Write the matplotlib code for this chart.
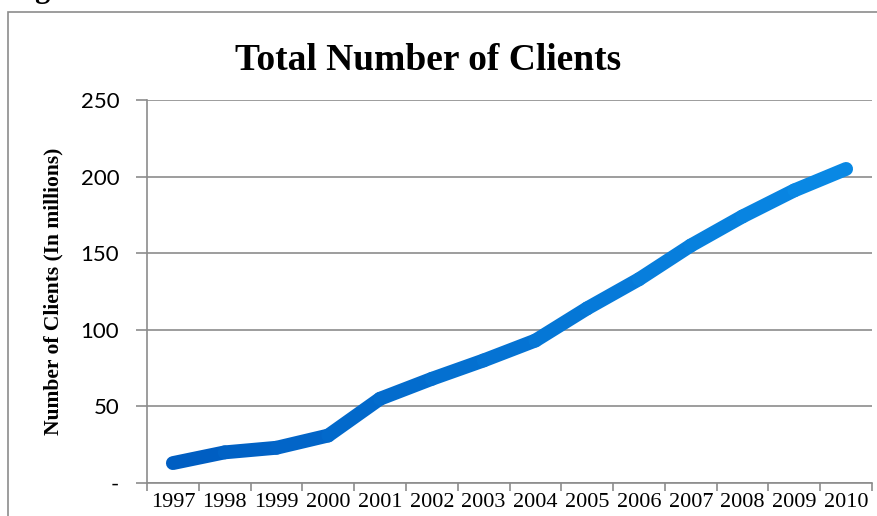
import numpy as np
from matplotlib import pyplot as plt
from matplotlib.collections import LineCollection
from matplotlib.colors import to_rgb
from matplotlib.patches import Rectangle

# Total clients per year, in millions
YEARS = ['1997', '1998', '1999', '2000', '2001', '2002', '2003',
         '2004', '2005', '2006', '2007', '2008', '2009', '2010']
CLIENTS = [13, 20, 23, 31, 55, 68, 80, 93, 114, 133, 155, 174, 191, 205]

Y_TICKS = [0, 50, 100, 150, 200, 250]
Y_TICK_LABELS = ['-', '50', '100', '150', '200', '250']

START_COLOR = '#005ec2'
END_COLOR = '#0988e4'
GRID_COLOR = '#8c8c8c'


def main():
    fig = plt.figure(figsize=(8.77, 5.16), dpi=100)
    ax = fig.add_axes([147 / 877, 1 - 483 / 516, 725 / 877, 383 / 516])

    # outer chart frame, only its top and left edges fall inside the image
    fig.patches.append(Rectangle((8 / 877, -0.2), 1.2, 1.2 - 12 / 516,
                                 transform=fig.transFigure, fill=False,
                                 edgecolor=GRID_COLOR, linewidth=1.2))
    fig.text(8 / 877, 1 + 3 / 516, 'Figure', family='Liberation Serif',
             weight='bold', fontsize=22, va='baseline', ha='left')

    x = np.arange(len(YEARS))
    y = np.array(CLIENTS, dtype=float)

    # one segment per year step, shaded from dark to light blue
    segments = [[(x[i], y[i]), (x[i + 1], y[i + 1])] for i in range(len(x) - 1)]
    c0 = np.array(to_rgb(START_COLOR))
    c1 = np.array(to_rgb(END_COLOR))
    t = np.linspace(0, 1, len(segments))
    colors = [tuple(c0 + (c1 - c0) * v) for v in t]
    lc = LineCollection(segments, colors=colors, linewidths=10,
                        capstyle='round', joinstyle='round', zorder=3)
    ax.add_collection(lc)

    ax.set_xlim(-0.5, len(YEARS) - 0.5)
    ax.set_ylim(0, 250)

    ax.set_yticks(Y_TICKS)
    ax.set_yticklabels(Y_TICK_LABELS, family='Lato', fontsize=16)
    ax.set_xticks(x)
    ax.set_xticklabels(YEARS, family='Liberation Serif', fontsize=16)
    ax.tick_params(axis='x', length=0, pad=7)
    ax.set_xticks(np.arange(len(YEARS) + 1) - 0.5, minor=True)
    ax.tick_params(axis='x', which='minor', length=6, width=1.2, color=GRID_COLOR)
    ax.tick_params(axis='y', length=8, width=1.2, color=GRID_COLOR, pad=12)

    ax.grid(axis='y', color=GRID_COLOR, linewidth=1.2)
    ax.set_axisbelow(True)
    for side in ('top', 'right'):
        ax.spines[side].set_visible(False)
    for side in ('left', 'bottom'):
        ax.spines[side].set_color(GRID_COLOR)
        ax.spines[side].set_linewidth(1.2)

    ax.set_ylabel('Number of Clients (In millions)', family='Liberation Serif',
                  weight='bold', fontsize=15.5, labelpad=12)
    fig.text(428 / 877, 1 - 70 / 516, 'Total Number of Clients',
             family='Liberation Serif', weight='bold', fontsize=27,
             ha='center', va='baseline')

    plt.savefig('out.png', dpi=100)


if __name__ == '__main__':
    main()
